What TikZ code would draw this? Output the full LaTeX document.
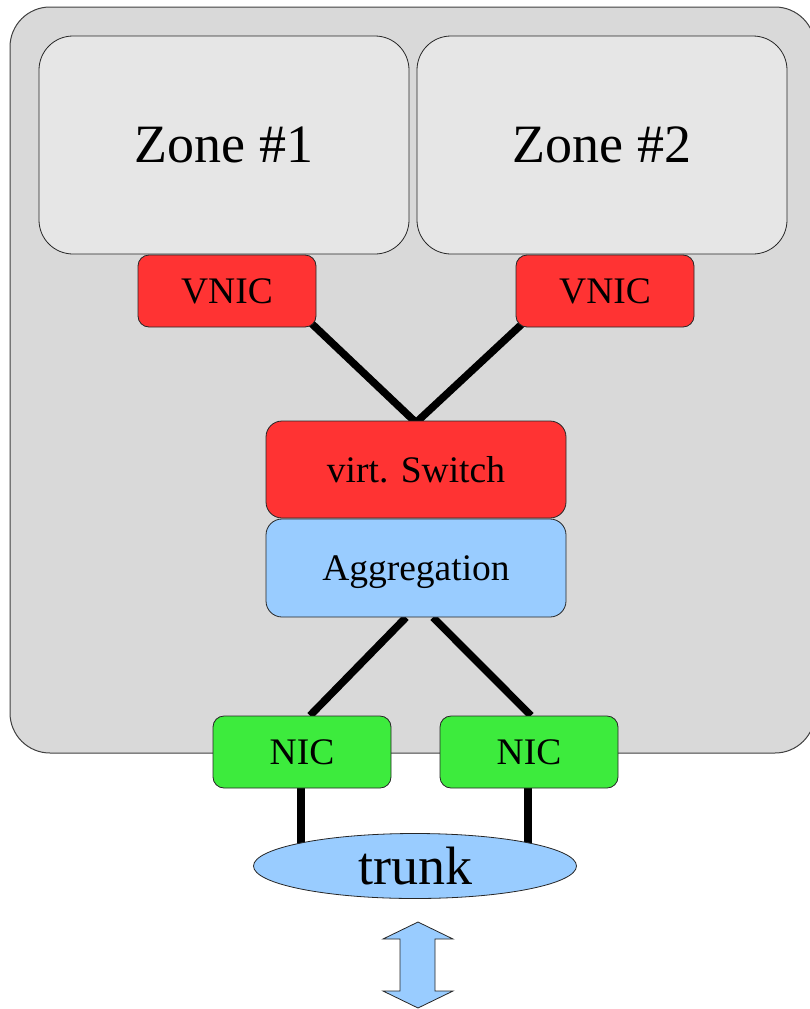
\documentclass[tikz,border=0pt]{standalone}
\usepackage{fontspec}
\setmainfont{Liberation Serif}
\usetikzlibrary{shapes.geometric,calc}
\definecolor{hostgray}{HTML}{D9D9D9}
\definecolor{zonegray}{HTML}{E6E6E6}
\definecolor{netred}{HTML}{FF3333}
\definecolor{netblue}{HTML}{99CCFF}
\definecolor{netgreen}{HTML}{3DEB3D}
\pgfdeclarelayer{bg}
\pgfdeclarelayer{wires}
\pgfsetlayers{bg,wires,main}
\tikzset{
  box/.style={draw=black!85, line width=0.8pt, inner sep=0pt, align=center},
  bigfont/.style={font=\fontsize{54}{62}\selectfont},
  smallfont/.style={font=\fontsize{37.5}{44}\selectfont},
  zonebox/.style={box, bigfont, fill=zonegray, rounded corners=34pt, minimum width=370pt, minimum height=218pt},
  vnicbox/.style={box, smallfont, fill=netred, rounded corners=11pt, minimum width=178pt, minimum height=72pt},
  nicbox/.style={box, smallfont, fill=netgreen, rounded corners=11pt, minimum width=178pt, minimum height=72pt},
  bigbox/.style={box, smallfont, rounded corners=16pt, minimum width=300pt},
  wire/.style={line width=7.5pt, black},
}
\begin{document}
\begin{tikzpicture}[x=1pt,y=-1pt]
\useasboundingbox (0,0) rectangle (809,1009);

% host frame
\begin{pgfonlayer}{bg}
  \fill[hostgray, draw=black!75, line width=1pt, rounded corners=40pt] (10,7) rectangle (815,753);
\end{pgfonlayer}

% zones
\node[zonebox] (zone1) at (224,145) {Zone \#1};
\node[zonebox] (zone2) at (602,145) {Zone \#2};

% virtual interfaces
\node[vnicbox] (vnic1) at (227,291) {VNIC};
\node[vnicbox] (vnic2) at (605,291) {VNIC};

% switch and aggregation
\node[bigbox, fill=netred, minimum height=97pt] (sw) at (416,469.5) {virt. Switch};
\node[bigbox, fill=netblue, minimum height=98pt, text depth=0pt] (agg) at (416,568) {Aggregation};

% physical interfaces
\node[nicbox] (nic1) at (302,752) {NIC};
\node[nicbox] (nic2) at (529,752) {NIC};

% trunk
\node[draw=black!85, line width=0.8pt, fill=netblue, ellipse, inner sep=0pt, bigfont,
      minimum width=323pt, minimum height=65pt] (trunk) at (415,866) {trunk};

% wires
\begin{pgfonlayer}{wires}
  \draw[wire] ($(vnic1.south east)+(-6,-5)$) -- ($(sw.north)+(0,2)$);
  \draw[wire] ($(vnic2.south west)+(7,-4)$) -- ($(sw.north)+(0,2)$);
  \draw[wire] ($(agg.south)+(-10,0)$) -- ($(nic1.north)+(8,0)$);
  \draw[wire] ($(agg.south)+(17,0)$) -- ($(nic2.north)+(2,0)$);
  \draw[wire] ($(nic1.south)+(-1,0)$) -- ($(nic1.south |- trunk.center)+(-1,0)$);
  \draw[wire] ($(nic2.south)+(-1,0)$) -- ($(nic2.south |- trunk.center)+(-1,0)$);
\end{pgfonlayer}

% up/down arrow
\draw[fill=netblue, draw=black!85, line width=0.8pt]
  (418,922) -- (453,939) -- (435,939) -- (435,991) -- (453,991) -- (418,1008)
  -- (383,991) -- (400,991) -- (400,939) -- (383,939) -- cycle;
\end{tikzpicture}
\end{document}
